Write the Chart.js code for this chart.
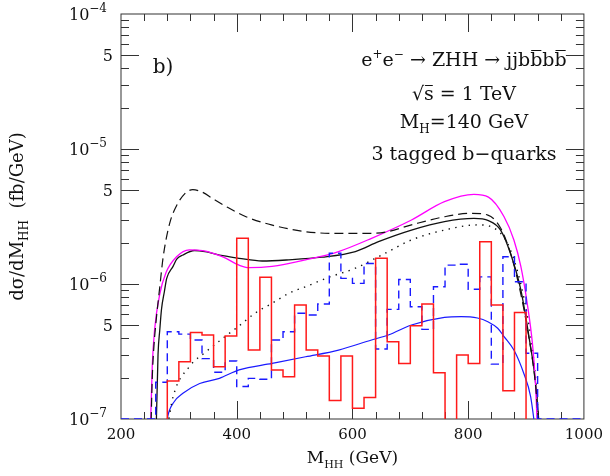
<!DOCTYPE html>
<html>
<head>
<meta charset="utf-8">
<title>dsigma/dM_HH</title>
<script src="https://cdn.jsdelivr.net/npm/chart.js@4.4.0/dist/chart.umd.min.js"></script>
<style>
  html, body { margin: 0; padding: 0; background: #fff; }
  #wrap { width: 610px; height: 476px; position: relative; }
</style>
</head>
<body>
<div id="wrap"><canvas id="mhh-chart"></canvas></div>
<script>
// === 1. Data ===

const xMin = 200, xMax = 1000;
const yMin = 1e-7, yMax = 1e-4;

// axis ticks
const xTickStep = 200;
const xMinorStep = 40;
const yTickValues = [1e-7, 5e-7, 1e-6, 5e-6, 1e-5, 5e-5, 1e-4];
const yTickBase = ['10', '5', '10', '5', '10', '5', '10'];
const yTickExp = ['\u22127', '', '\u22126', '', '\u22125', '', '\u22124'];

// histogram bin edges (20 GeV bins), 34 edges -> 33 bins
const histEdges = [260, 280, 300, 320, 340, 360, 380, 400, 420, 440, 460, 480, 500,
  520, 540, 560, 580, 600, 620, 640, 660, 680, 700, 720, 740, 760, 780, 800,
  820, 840, 860, 880, 900, 920];

// red solid histogram (0 = below the plotted range)
const redHist = [0, 1.91e-7, 2.66e-7, 4.38e-7, 4.19e-7, 2.44e-7, 4.12e-7, 2.18e-6,
  3.24e-7, 1.12e-6, 2.31e-7, 2.06e-7, 6.98e-7, 3.24e-7, 2.93e-7, 1.37e-7, 2.93e-7,
  1.2e-7, 1.44e-7, 1.55e-6, 3.74e-7, 2.58e-7, 4.91e-7, 7.11e-7, 2.2e-7, 0,
  2.98e-7, 2.58e-7, 2.06e-6, 6.98e-7, 1.62e-7, 6.14e-7, 0];

// blue dashed histogram
const blueHist = [1.87e-7, 4.43e-7, 4.25e-7, 3.85e-7, 2.8e-7, 2.22e-7, 2.69e-7, 1.74e-7,
  2.0e-7, 1.97e-7, 3.85e-7, 4.43e-7, 6.07e-7, 5.9e-7, 7.11e-7, 1.69e-6, 1.1e-6,
  1.01e-6, 1.42e-6, 3.3e-7, 6.49e-7, 1.08e-6, 6.79e-7, 4.61e-7, 9.55e-7, 1.38e-6,
  1.4e-6, 9.14e-7, 1.13e-6, 2.55e-7, 1.59e-6, 1.04e-6, 3.07e-7];

// black dashed curve
const dashedX = [251, 254, 257, 261, 267, 273, 284, 296, 310, 324, 340, 360, 382, 416,
  460, 519, 576, 633, 660, 702, 759, 805, 834, 856, 873, 890, 905, 916, 925];
const dashedY = [6e-8, 2.0e-7, 3.5e-7, 5.5e-7, 9.5e-7, 1.6e-6, 2.8e-6, 3.8e-6, 4.65e-6,
  5.0e-6, 4.8e-6, 4.25e-6, 3.74e-6, 3.15e-6, 2.74e-6, 2.44e-6, 2.37e-6, 2.37e-6,
  2.44e-6, 2.74e-6, 3.15e-6, 3.34e-6, 3.24e-6, 2.6e-6, 1.7e-6, 8.8e-7, 4.0e-7,
  1.85e-7, 6e-8];

// magenta curve
const magentaX = [250, 254, 258, 267, 278, 296, 318, 341, 376, 404, 421, 461, 519, 576,
  633, 702, 759, 810, 835, 862, 879, 891, 902, 911, 916, 921];
const magentaY = [6e-8, 2.44e-7, 4.56e-7, 8.4e-7, 1.22e-6, 1.59e-6, 1.79e-6, 1.77e-6,
  1.59e-6, 1.38e-6, 1.32e-6, 1.35e-6, 1.51e-6, 1.74e-6, 2.18e-6, 2.98e-6, 4.07e-6,
  4.61e-6, 4.4e-6, 3.15e-6, 2.12e-6, 1.35e-6, 7.2e-7, 3.63e-7, 1.93e-7, 6e-8];

// black solid curve
const solidX = [260, 264, 267, 270, 275, 279, 290, 296, 307, 327, 345, 376, 404, 444,
  490, 547, 605, 645, 702, 759, 810, 835, 856, 873, 891, 905, 916, 926];
const solidY = [6e-8, 3.0e-7, 4.56e-7, 6.5e-7, 8.8e-7, 1.1e-6, 1.35e-6, 1.52e-6, 1.64e-6,
  1.77e-6, 1.74e-6, 1.62e-6, 1.55e-6, 1.48e-6, 1.51e-6, 1.58e-6, 1.74e-6, 2.06e-6,
  2.51e-6, 2.9e-6, 3.06e-6, 2.95e-6, 2.51e-6, 1.69e-6, 9.04e-7, 4.08e-7, 1.93e-7, 6e-8];

// black dotted curve
const dottedX = [279, 290, 318, 347, 376, 404, 433, 461, 490, 519, 559, 605, 652, 702,
  759, 816, 850, 873, 896, 911, 919, 924];
const dottedY = [8e-8, 1.46e-7, 2.44e-7, 3.15e-7, 3.96e-7, 4.89e-7, 6.14e-7, 7.19e-7,
  8.53e-7, 9.55e-7, 1.12e-6, 1.31e-6, 1.65e-6, 2.12e-6, 2.51e-6, 2.74e-6, 2.51e-6,
  1.79e-6, 8.0e-7, 3.3e-7, 1.46e-7, 6e-8];

// blue solid curve
const blueX = [276, 280, 290, 307, 336, 370, 404, 461, 519, 576, 633, 662, 702, 759,
  788, 816, 834, 851, 862, 879, 896, 908, 918];
const blueY = [7e-8, 1.0e-7, 1.31e-7, 1.55e-7, 1.83e-7, 2.0e-7, 2.31e-7, 2.58e-7, 2.89e-7,
  3.24e-7, 3.85e-7, 4.19e-7, 4.97e-7, 5.66e-7, 5.74e-7, 5.6e-7, 5.26e-7, 4.7e-7,
  4.08e-7, 3.24e-7, 2.18e-7, 1.46e-7, 7e-8];

// === 2. Helpers ===

const SERIF = '"DejaVu Serif", serif';

const zip = (xs, ys) => xs.map((x, i) => ({ x, y: ys[i] }));

/** Step points for a histogram; empty bins drop to floorValue. */
function histPoints(values, floorValue) {
  // stepped 'before': each point's value runs to the next point
  const pts = [{ x: xMin, y: floorValue }];
  values.forEach((v, i) => pts.push({ x: histEdges[i], y: v > 0 ? v : floorValue }));
  pts.push({ x: histEdges[histEdges.length - 1], y: floorValue });
  pts.push({ x: xMax, y: floorValue });
  return pts;
}

/** Draws a row of text runs: [text, size, dy, overline]. */
function drawRuns(ctx, runs, x0, baseline, align) {
  let total = 0;
  runs.forEach(r => { ctx.font = `${r[1]}px ${SERIF}`; total += ctx.measureText(r[0]).width; });
  let x = align === 'right' ? x0 - total : x0 - total / 2;
  runs.forEach(r => {
    ctx.font = `${r[1]}px ${SERIF}`;
    const w = ctx.measureText(r[0]).width;
    ctx.fillText(r[0], x, baseline + (r[2] || 0));
    if (r[3]) {
      const oy = Math.round(baseline - r[1] * r[3]) + 0.5;
      ctx.beginPath();
      ctx.moveTo(x + 1, oy);
      ctx.lineTo(x + w - 1, oy);
      ctx.stroke();
    }
    x += w;
  });
}

// === 3. Plugins: inward ticks, frame and text ===

const frameTicks = {
  id: 'frameTicks',
  beforeDatasetsDraw(chart) {
    const { ctx, chartArea: a, scales: { x, y } } = chart;
    ctx.save();
    ctx.strokeStyle = '#333';
    ctx.lineWidth = 1;
    ctx.strokeRect(a.left, a.top, a.right - a.left, a.bottom - a.top);
    ctx.beginPath();
    for (let v = xMin + xMinorStep; v < xMax; v += xMinorStep) {
      const px = Math.round(x.getPixelForValue(v)) + 0.5;
      const len = v % xTickStep === 0 ? 18 : 7;
      ctx.moveTo(px, a.bottom); ctx.lineTo(px, a.bottom - len);
      ctx.moveTo(px, a.top); ctx.lineTo(px, a.top + len);
    }
    for (let d = -7; d < -4; d++) {
      for (let m = 1; m <= 9; m++) {
        const v = m * Math.pow(10, d);
        if (v <= yMin) continue;
        const py = Math.round(y.getPixelForValue(v)) + 0.5;
        const len = (m === 1 || m === 5) ? 18 : 8;
        ctx.moveTo(a.left, py); ctx.lineTo(a.left + len, py);
        ctx.moveTo(a.right, py); ctx.lineTo(a.right - len, py);
      }
    }
    ctx.stroke();
    ctx.restore();
  }
};

const textLayer = {
  id: 'textLayer',
  afterDraw(chart) {
    const { ctx, chartArea: a, scales: { y } } = chart;
    ctx.save();
    ctx.fillStyle = '#111';
    ctx.strokeStyle = '#111';
    ctx.lineWidth = 1;
    ctx.textBaseline = 'alphabetic';

    // y tick labels with superscripts
    yTickValues.forEach((v, i) => {
      const py = y.getPixelForValue(v);
      if (yTickExp[i]) {
        drawRuns(ctx, [[yTickBase[i], 16, 0], [yTickExp[i], 12, -8]], 107, py + 6, 'right');
      } else {
        drawRuns(ctx, [[yTickBase[i], 16, 0]], 113, py + 6, 'right');
      }
    });

    // x axis title
    const cx = (a.left + a.right) / 2;
    drawRuns(ctx, [['M', 17, 0], ['HH', 11, 5], [' (GeV)', 17, 0]], cx, 463, 'center');

    // y axis title
    ctx.save();
    ctx.translate(17, (a.top + a.bottom) / 2);
    ctx.rotate(-Math.PI / 2);
    drawRuns(ctx, [['d\u03c3/dM', 18, 0], ['HH', 12, 5], ['  (fb/GeV)', 18, 0]], 0, 6, 'center');
    ctx.restore();

    // panel label and process text
    drawRuns(ctx, [['b)', 20, 0]], 163, 73, 'center');
    const tx = 464;
    drawRuns(ctx, [['e', 19, 0], ['+', 12, -8], ['e', 19, 0], ['\u2212', 12, -8],
      [' \u2192 ZHH \u2192 jjb', 19, 0], ['b', 19, 0, 0.86], ['b', 19, 0], ['b', 19, 0, 0.86]],
      tx, 66, 'center');
    drawRuns(ctx, [['\u221a', 19, 0], ['s', 19, 0, 0.8], [' = 1 TeV', 19, 0]], tx, 100, 'center');
    drawRuns(ctx, [['M', 19, 0], ['H', 12, 5], ['=140 GeV', 19, 0]], tx, 128, 'center');
    drawRuns(ctx, [['3 tagged b\u2212quarks', 19, 0]], tx, 160, 'center');
    ctx.restore();
  }
};

// === 4. Chart ===

const ctx = document.getElementById('mhh-chart').getContext('2d');

const curve = (label, xs, ys, color, width, dash) => ({
  label,
  data: zip(xs, ys),
  borderColor: color,
  borderWidth: width,
  borderDash: dash || [],
  pointRadius: 0,
  fill: false,
  cubicInterpolationMode: 'monotone'
});

const chart = new Chart(ctx, {
  type: 'line',
  data: {
    datasets: [
      {
        label: 'red histogram',
        data: histPoints(redHist, 1e-8),
        borderColor: '#ff1a1a',
        borderWidth: 1.5,
        stepped: 'before',
        pointRadius: 0,
        fill: false
      },
      {
        label: 'blue dashed histogram',
        data: histPoints(blueHist, yMin),
        borderColor: '#1a1aff',
        borderWidth: 1.4,
        borderDash: [8, 5],
        stepped: 'before',
        pointRadius: 0,
        fill: false
      },
      curve('dashed', dashedX, dashedY, '#111', 1.2, [9, 5]),
      curve('magenta', magentaX, magentaY, '#ff00ff', 1.3),
      curve('solid', solidX, solidY, '#111', 1.3),
      curve('dotted', dottedX, dottedY, '#111', 1.4, [1.4, 5.4]),
      curve('blue', blueX, blueY, '#1a1aff', 1.2)
    ]
  },
  options: {
    responsive: true,
    maintainAspectRatio: false,
    animation: false,
    layout: { padding: { left: 0, right: 23, top: 14, bottom: 0 } },
    plugins: {
      legend: { display: false },
      tooltip: { enabled: false }
    },
    scales: {
      x: {
        type: 'linear',
        min: xMin,
        max: xMax,
        grid: { display: false, drawTicks: false },
        border: { display: false },
        ticks: {
          stepSize: xTickStep,
          maxRotation: 0,
          padding: 7,
          color: '#111',
          font: { family: SERIF, size: 15 },
          callback: value => String(value)
        },
        afterFit: scale => { scale.height = 57; }
      },
      y: {
        type: 'logarithmic',
        min: yMin,
        max: yMax,
        grid: { display: false, drawTicks: false },
        border: { display: false },
        ticks: { display: false },
        afterFit: scale => { scale.width = 121; }
      }
    }
  },
  plugins: [frameTicks, textLayer]
});
</script>
</body>
</html>
